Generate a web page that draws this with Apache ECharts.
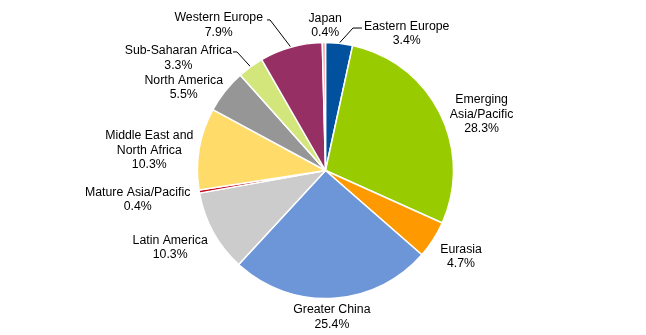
<!DOCTYPE html>
<html><head><meta charset="utf-8">
<script src="https://cdn.jsdelivr.net/npm/echarts@6/dist/echarts.min.js"></script>
<style>html,body{margin:0;padding:0;background:#fff}#c{width:646px;height:335px}</style>
</head><body><div id="c"></div>
<script>
// ---- data ----
const categories = ['Eastern Europe', 'Emerging\nAsia/Pacific', 'Eurasia', 'Greater China', 'Latin America',
  'Mature Asia/Pacific', 'Middle East and\nNorth Africa', 'North America', 'Sub-Saharan Africa', 'Western Europe', 'Japan'];
const shares = [3.4, 28.3, 4.7, 25.4, 10.3, 0.4, 10.3, 5.5, 3.3, 7.9, 0.4];

// ---- styles ----
const colors = ['#02519E', '#99CC00', '#FF9900', '#6D96D8', '#CCCCCC', '#C0142B', '#FFDB69', '#969696', '#D2E67C', '#962F64', '#FF9F9F'];

// ---- label layout (length, length2, distance, leader line + last-segment length, top padding) ----
const labelPlacement = [
  { len: 15.3, len2: 21.2, dist: 2, line: true, bend: 9, padTop: 11 },
  { len: 0, len2: 0, dist: 10, line: false, padTop: 3 },
  { len: 28.5, len2: 0, dist: -17, line: false, padTop: 3 },
  { len: 17.2, len2: 0, dist: -40, line: false, padTop: 3 },
  { len: 29.1, len2: 0, dist: -20, line: false, padTop: 3 },
  { len: 39.5, len2: 0, dist: -30, line: false, padTop: 3 },
  { len: 0, len2: 0, dist: 6, line: false, padTop: 3 },
  { len: 8.4, len2: 0, dist: -4.6, line: false, padTop: 3 },
  { len: 18.3, len2: 6.8, dist: 1, line: true, bend: 4, padTop: 12 },
  { len: 28.4, len2: 16.2, dist: 4, line: true, bend: 3, padTop: 10 },
  { len: 18.5, len2: 0, dist: -18.3, line: false, padTop: 3 }
];

const FONT = '"Liberation Sans", Arial, sans-serif';
const FS = 12.3;
const LH = 14.5;

const seriesData = categories.map((name, i) => {
  const p = labelPlacement[i];
  return {
    name: name,
    value: shares[i],
    itemStyle: { color: colors[i] },
    label: { distanceToLabelLine: p.dist, padding: [p.padTop, 0, 0, 0] },
    labelLine: { show: p.line, length: p.len, length2: p.len2 }
  };
});

const chart = echarts.init(document.getElementById('c'), null, { renderer: 'canvas' });
chart.setOption({
  animation: false,
  backgroundColor: '#ffffff',
  series: [{
    type: 'pie',
    center: [325.5, 170.5],
    radius: 128,
    startAngle: 90,
    clockwise: true,
    avoidLabelOverlap: false,
    minShowLabelAngle: 0,
    labelLayout: function (params) {
      const p = labelPlacement[params.dataIndex];
      const pts = params.labelLinePoints;
      if (p && p.line && pts && pts.length === 3) {
        const start = [pts[0][0], pts[0][1]];
        const end = [pts[2][0], pts[2][1]];
        const side = end[0] > start[0] ? 1 : -1;
        const mid = [end[0] - side * p.bend, end[1]];
        return { hideOverlap: false, labelLinePoints: [start, mid, end] };
      }
      return { hideOverlap: false };
    },
    itemStyle: { borderColor: '#ffffff', borderWidth: 1.5 },
    emphasis: { disabled: true },
    label: {
      show: true,
      position: 'outside',
      alignTo: 'none',
      edgeDistance: 0,
      bleedMargin: 0,
      color: '#000000',
      fontFamily: FONT,
      fontSize: FS,
      lineHeight: LH,
      formatter: function (p) {
        const lines = p.name.split('\n').concat([p.value.toFixed(1) + '%']);
        return lines.map(s => '{c|' + s + '}').join('\n');
      },
      rich: {
        c: { align: 'center', fontFamily: FONT, fontSize: FS, lineHeight: LH, color: '#000000' }
      }
    },
    labelLine: {
      smooth: false,
      lineStyle: { color: '#000000', width: 1 }
    },
    data: seriesData
  }]
});
</script>
</body></html>
